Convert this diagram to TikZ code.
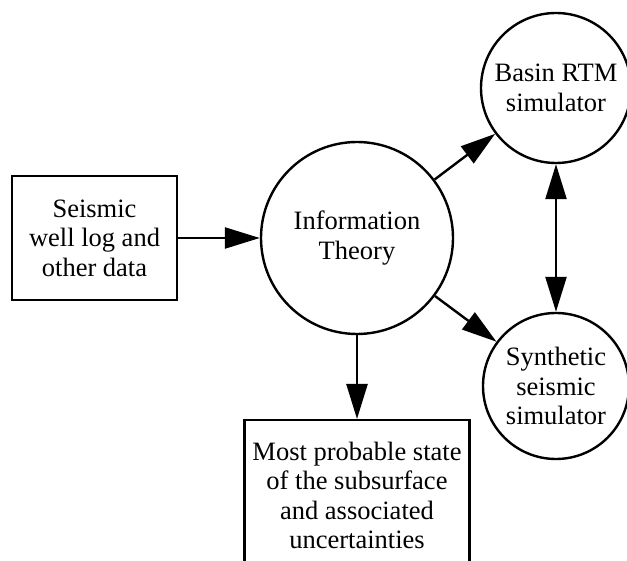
\documentclass[tikz,border=0pt]{standalone}
\usepackage{fontspec}
\setmainfont{Liberation Serif}
\usetikzlibrary{arrows.meta}

\begin{document}
\begin{tikzpicture}[x=1pt, y=-1pt, line width=2.4pt,
  >={Triangle[length=35pt,width=21pt]},
  font=\fontsize{26.5}{29.5}\selectfont,
  databox/.style={draw, rectangle, align=center, inner sep=0pt},
  simnode/.style={draw, circle, align=center, inner sep=0pt}]
  \useasboundingbox (0,0) rectangle (627,561);
  \clip (0,0) rectangle (627,561);
  % boxes and circles
  \node[databox, minimum width=165pt, minimum height=124pt] (data) at (94.5,238)
    {Seismic\\well log and\\other data};
  \node[simnode, minimum size=192pt] (info) at (357,238) {Information\\Theory};
  \node[simnode, minimum size=150pt] (basin) at (556,88) {Basin RTM\\simulator};
  \node[simnode, minimum size=146pt] (synth) at (556,386) {Synthetic\\seismic\\simulator};
  \node[databox, minimum width=225pt, minimum height=150pt, anchor=north] (result) at (357,419)
    {Most probable state\\of the subsurface\\and associated\\uncertainties};
  % arrows
  \draw[->] (data.east) -- (info.west);
  \draw[->] (info) -- (basin);
  \draw[->] (info) -- (synth);
  \draw[<->] (basin) -- (synth);
  \draw[->] (info.south) -- (result.north);
\end{tikzpicture}
\end{document}
